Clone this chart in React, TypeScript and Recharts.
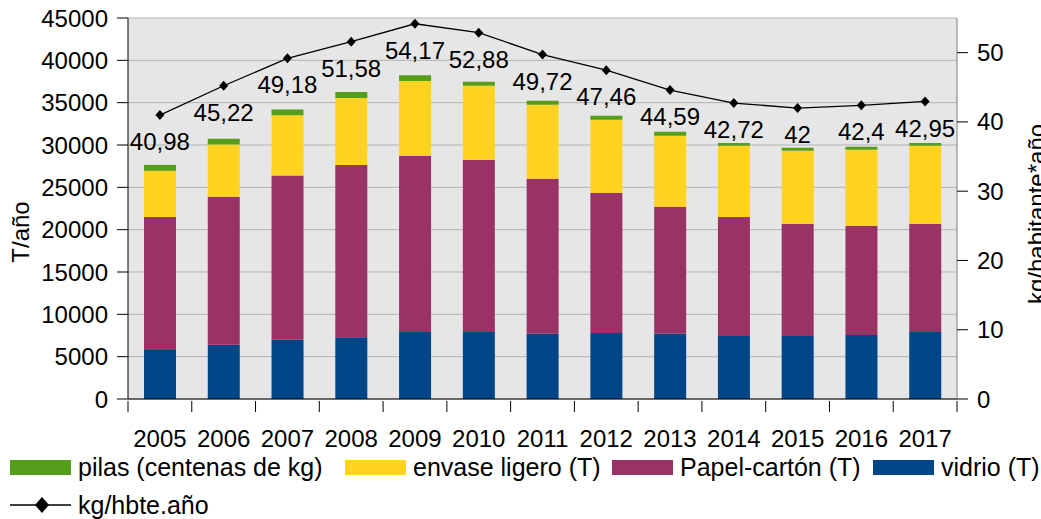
import React from 'react'
import { ComposedChart, Bar, Line, XAxis, YAxis, CartesianGrid, LabelList } from 'recharts'

const years = ['2005', '2006', '2007', '2008', '2009', '2010', '2011', '2012', '2013', '2014', '2015', '2016', '2017']
const vidrio = [5800, 6400, 7000, 7300, 7900, 7900, 7700, 7800, 7700, 7450, 7450, 7550, 7900]
const papel = [15700, 17500, 19400, 20350, 20800, 20350, 18300, 16550, 15000, 14050, 13250, 12900, 12800]
const envase = [5450, 6150, 7100, 7900, 8850, 8750, 8750, 8630, 8400, 8400, 8630, 9000, 9200]
const pilas = [700, 700, 700, 700, 700, 470, 470, 470, 470, 350, 350, 350, 350]
const kgHab = [40.98, 45.22, 49.18, 51.58, 54.17, 52.88, 49.72, 47.46, 44.59, 42.72, 42, 42.4, 42.95]

const leftTicks = [0, 5000, 10000, 15000, 20000, 25000, 30000, 35000, 40000, 45000]
const rightTicks = [0, 10, 20, 30, 40, 50]

const data = years.map((year, i) => ({
  year,
  vidrio: vidrio[i],
  papel: papel[i],
  envase: envase[i],
  pilas: pilas[i],
  kg: kgHab[i],
}))

const W = 1041
const H = 519
const LEFT_W = 128
const RIGHT_W = 84
const FONT = '"Liberation Sans", Arial, sans-serif'
const band = (W - LEFT_W - RIGHT_W) / years.length

const colors = {
  pilas: '#579d1c',
  envase: '#ffd320',
  papel: '#993366',
  vidrio: '#004586',
}

function YearTick(props: any) {
  const { x, y, payload, index } = props
  const half = band / 2
  return (
    <g>
      <line x1={x - half} x2={x - half} y1={y} y2={y + 11} stroke="#000" />
      {index === years.length - 1 && <line x1={x + half} x2={x + half} y1={y} y2={y + 11} stroke="#000" />}
      <text x={x} y={y + 46} textAnchor="middle" fontSize={24} fontFamily={FONT} fill="#000">
        {payload.value}
      </text>
    </g>
  )
}

function Diamond(props: any) {
  const { cx, cy } = props
  if (cx == null || cy == null) return null
  return <polygon points={`${cx},${cy - 5} ${cx + 4.5},${cy} ${cx},${cy + 5} ${cx - 4.5},${cy}`} fill="#000" />
}

const legendItems = [
  { label: 'pilas (centenas de kg)', color: colors.pilas, left: 10 },
  { label: 'envase ligero (T)', color: colors.envase, left: 345 },
  { label: 'Papel-cartón (T)', color: colors.papel, left: 612 },
  { label: 'vidrio (T)', color: colors.vidrio, left: 873 },
]

export default function App() {
  return (
    <div style={{ position: 'absolute', left: 0, top: 0, width: W, height: H, background: '#fff', fontFamily: FONT }}>
      <ComposedChart width={W} height={H} data={data} margin={{ top: 18, right: 0, left: 0, bottom: 0 }}>
        <CartesianGrid yAxisId="left" vertical={false} stroke="#b3b3b3" fill="#e6e6e6" />
        <XAxis
          dataKey="year"
          height={120}
          interval={0}
          tickLine={false}
          tickSize={0}
          axisLine={{ stroke: '#000' }}
          tick={<YearTick />}
        />
        <YAxis
          yAxisId="left"
          width={LEFT_W}
          domain={[0, 45000]}
          ticks={leftTicks}
          interval={0}
          tickSize={11}
          tickMargin={9}
          axisLine={{ stroke: '#000' }}
          tickLine={{ stroke: '#000' }}
          tick={{ fontSize: 24, fill: '#000', fontFamily: FONT }}
          label={{
            content: () => (
              <text x={29} y={232} transform="rotate(-90 29 232)" textAnchor="middle" fontSize={24} fontFamily={FONT} fill="#000">
                T/año
              </text>
            ),
          }}
        />
        <YAxis
          yAxisId="right"
          orientation="right"
          width={RIGHT_W}
          domain={[0, 55]}
          ticks={rightTicks}
          interval={0}
          tickSize={11}
          tickMargin={9}
          axisLine={{ stroke: '#808080' }}
          tickLine={{ stroke: '#000' }}
          tick={{ fontSize: 24, fill: '#000', fontFamily: FONT }}
          label={{
            content: () => (
              <text x={1045} y={214} transform="rotate(-90 1045 214)" textAnchor="middle" fontSize={24} fontFamily={FONT} fill="#000">
                kg/habitante*año
              </text>
            ),
          }}
        />
        <Bar yAxisId="left" dataKey="vidrio" stackId="a" fill={colors.vidrio} barSize={32} isAnimationActive={false} />
        <Bar yAxisId="left" dataKey="papel" stackId="a" fill={colors.papel} barSize={32} isAnimationActive={false} />
        <Bar yAxisId="left" dataKey="envase" stackId="a" fill={colors.envase} barSize={32} isAnimationActive={false} />
        <Bar yAxisId="left" dataKey="pilas" stackId="a" fill={colors.pilas} barSize={32} isAnimationActive={false} />
        <Line
          yAxisId="right"
          dataKey="kg"
          stroke="#000"
          strokeWidth={1.3}
          dot={<Diamond />}
          activeDot={false}
          isAnimationActive={false}
        >
          <LabelList
            dataKey="kg"
            position="bottom"
            offset={18}
            formatter={(v: any) => String(v).replace('.', ',')}
            fill="#000"
            fontSize={24}
            fontFamily={FONT}
          />
        </Line>
      </ComposedChart>
      {legendItems.map(item => (
        <div key={item.label} style={{ position: 'absolute', left: item.left, top: 453, display: 'flex', alignItems: 'center', height: 28 }}>
          <span style={{ display: 'inline-block', width: 61, height: 15, background: item.color, marginRight: 7 }} />
          <span style={{ fontSize: 25, color: '#000', whiteSpace: 'nowrap' }}>{item.label}</span>
        </div>
      ))}
      <div style={{ position: 'absolute', left: 10, top: 491, display: 'flex', alignItems: 'center', height: 28 }}>
        <svg width={61} height={20} style={{ marginRight: 7 }}>
          <line x1={0} x2={61} y1={10} y2={10} stroke="#000" strokeWidth={1.3} />
          <polygon points="32,2 39,10 32,18 25,10" fill="#000" />
        </svg>
        <span style={{ fontSize: 25, color: '#000', whiteSpace: 'nowrap' }}>kg/hbte.año</span>
      </div>
    </div>
  )
}
